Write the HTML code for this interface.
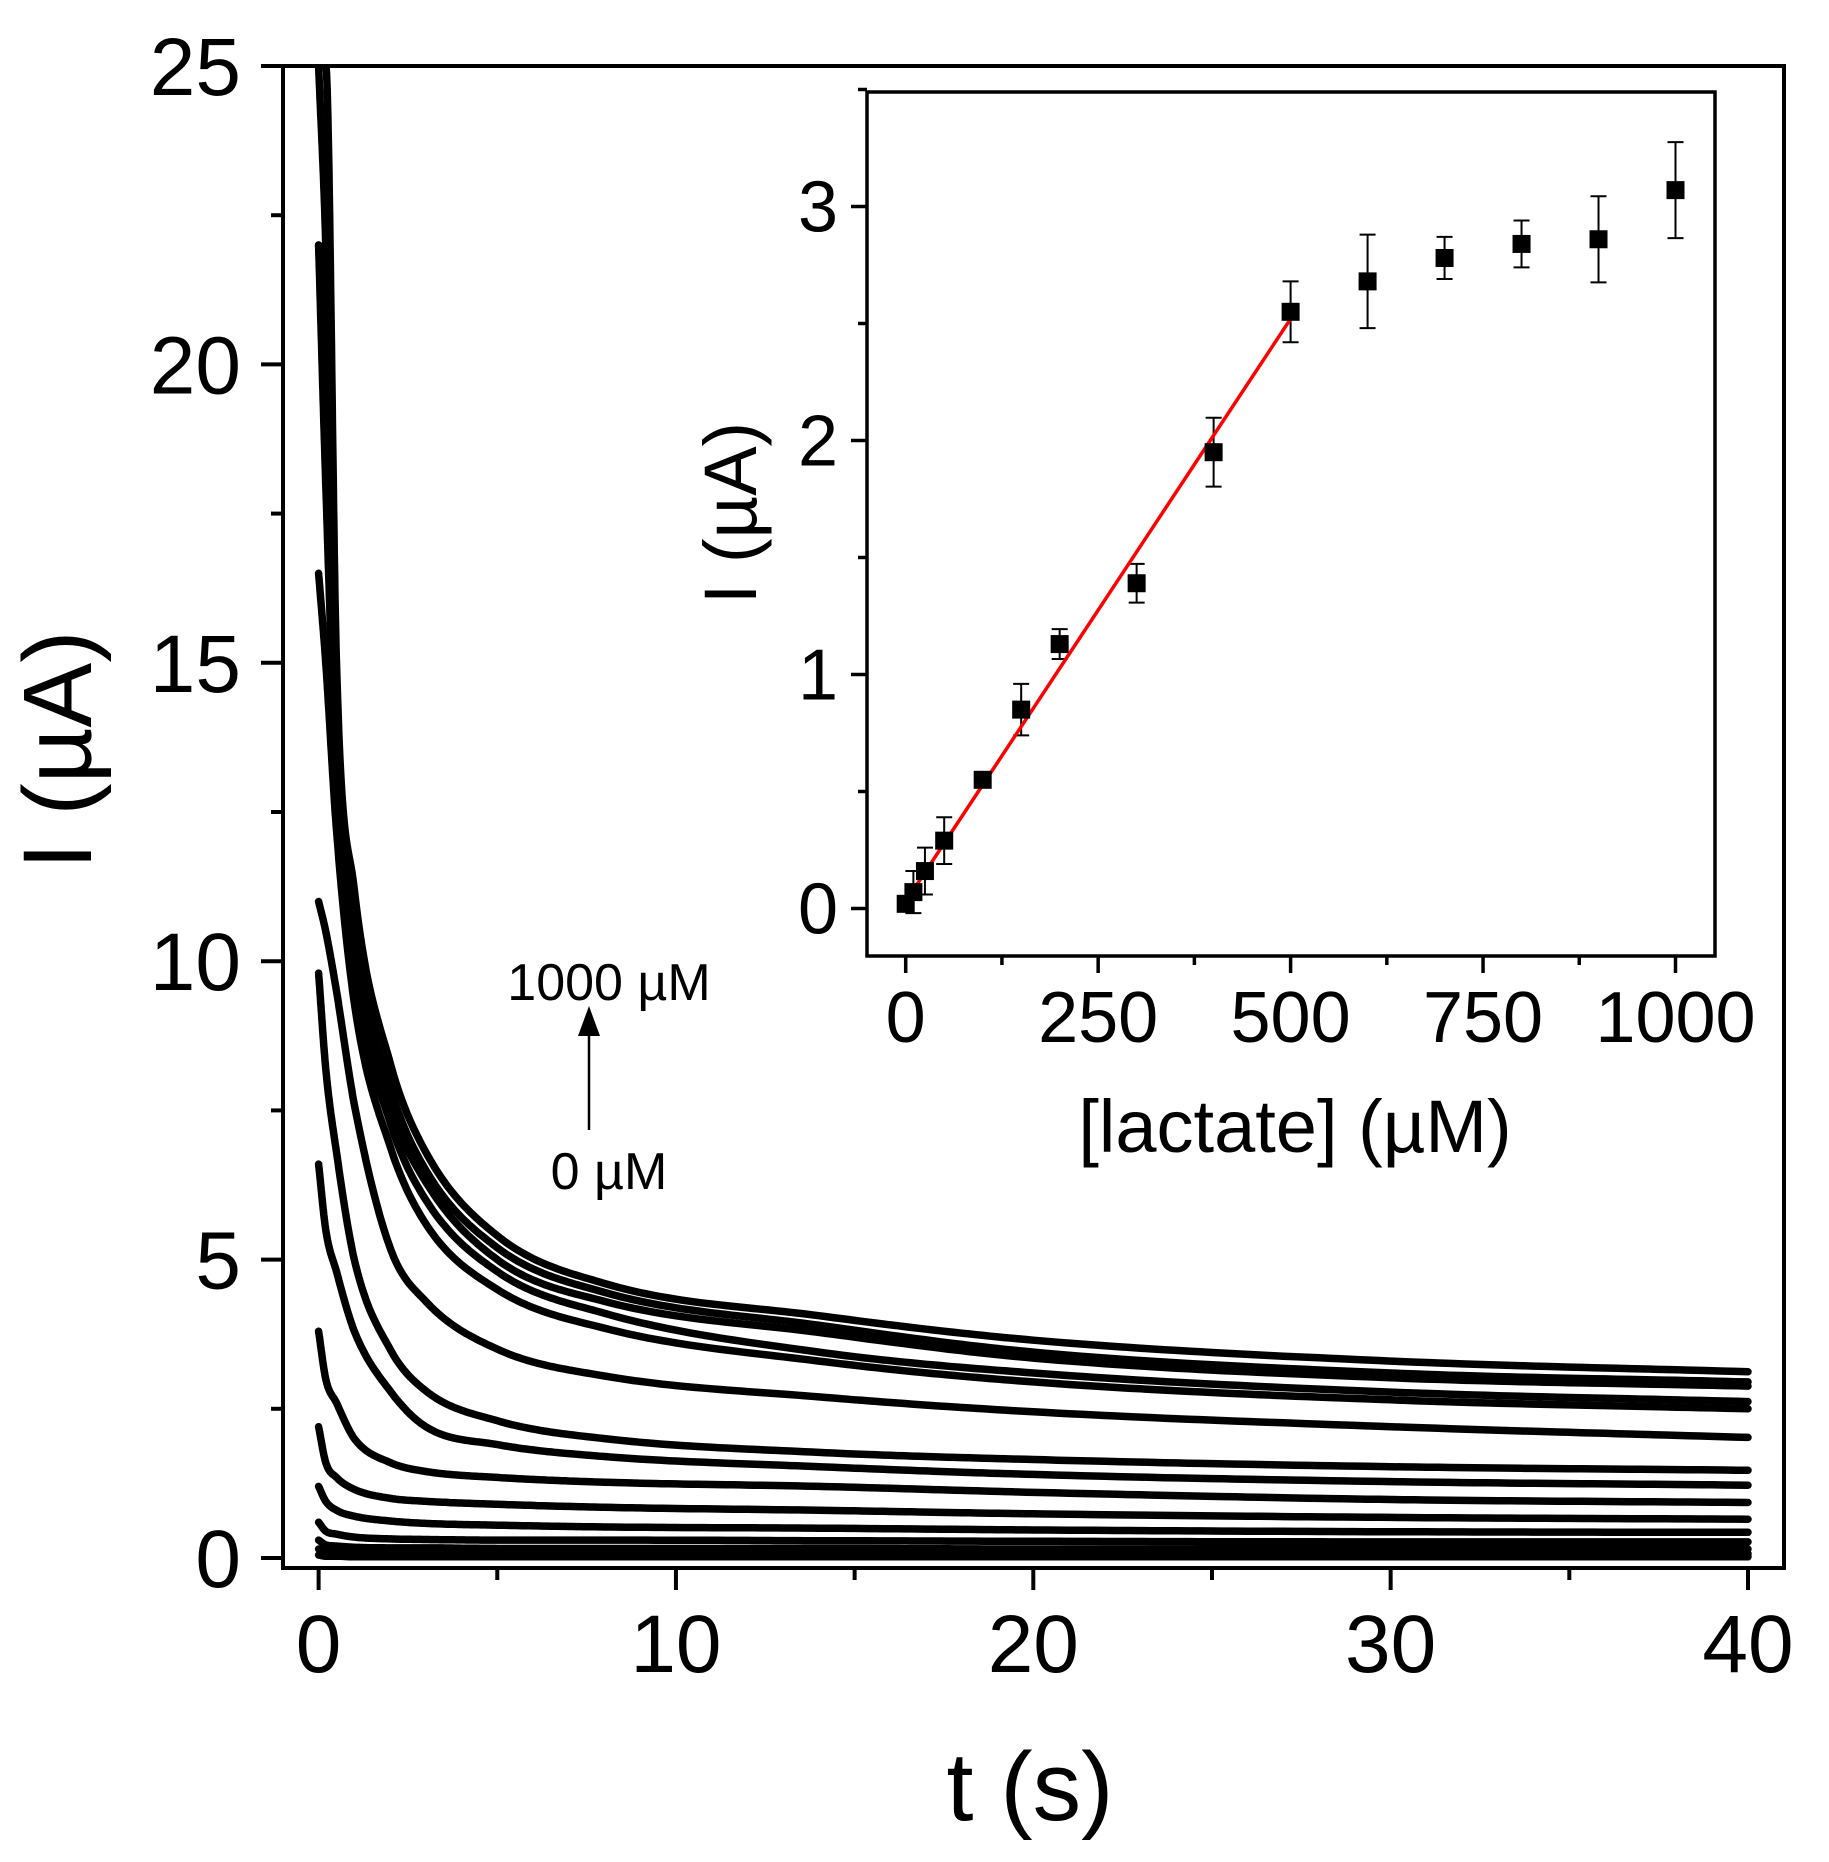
<!DOCTYPE html>
<html><head><meta charset="utf-8"><style>
html,body{margin:0;padding:0;background:#fff;}
svg{display:block;font-family:"Liberation Sans",Arial,sans-serif;}
</style></head><body>
<svg id="chart" width="1829" height="1862" viewBox="0 0 1829 1862" xmlns="http://www.w3.org/2000/svg">
<rect x="0" y="0" width="1829" height="1862" fill="#fff"/>
<g id="main"></g>
<g id="inset"></g>
<g>
<text x="609" y="1000" font-size="52" text-anchor="middle">1000 µM</text>
<line x1="589" y1="1130" x2="589" y2="1032" stroke="#000" stroke-width="2.5"/>
<polygon points="578,1036 600,1036 589,1006" fill="#000"/>
<text x="609" y="1189" font-size="52" text-anchor="middle">0 µM</text>
</g>
</svg>
<script>
// ---------- main plot data ----------
const timeSamples = [0, 0.2, 0.5, 1, 2, 3, 5, 8, 14, 20, 30, 40];
const curve1000 = [25, 25, 15, 11.2, 8.3, 6.8, 5.4, 4.6, 4.06, 3.65, 3.3, 3.12];
const curve900 = [25, 22, 14, 10.6, 7.9, 6.5, 5.2, 4.45, 3.9, 3.45, 3.1, 2.95];
const curve800 = [22, 20, 13.5, 10.2, 7.6, 6.3, 5.0, 4.3, 3.78, 3.35, 3.02, 2.88];
const curve700 = [22, 18, 13, 9.8, 7.3, 6.0, 4.8, 4.1, 3.45, 3.1, 2.78, 2.62];
const curve600 = [16.5, 15, 12.2, 9.3, 6.9, 5.6, 4.5, 3.85, 3.3, 2.95, 2.65, 2.5];
const curve500 = [11, 10.5, 9.5, 7.6, 5.2, 4.3, 3.5, 3.05, 2.7, 2.45, 2.2, 2.02];
const curve400 = [9.8, 8.2, 6.8, 5.0, 3.5, 2.8, 2.3, 2.0, 1.77, 1.65, 1.53, 1.47];
const curve300 = [6.6, 5.5, 4.8, 3.8, 2.8, 2.2, 1.9, 1.7, 1.53, 1.4, 1.28, 1.22];
const curve200 = [3.8, 3.0, 2.6, 2.0, 1.6, 1.45, 1.35, 1.27, 1.2, 1.1, 0.98, 0.93];
const curve150 = [2.2, 1.6, 1.35, 1.15, 1.0, 0.95, 0.9, 0.85, 0.8, 0.74, 0.68, 0.65];
const curve100 = [1.2, 0.95, 0.8, 0.7, 0.62, 0.58, 0.55, 0.52, 0.5, 0.47, 0.44, 0.43];
const curve50 = [0.6, 0.45, 0.4, 0.35, 0.32, 0.31, 0.3, 0.3, 0.29, 0.28, 0.27, 0.27];
const curve25 = [0.3, 0.22, 0.2, 0.18, 0.17, 0.17, 0.16, 0.16, 0.16, 0.15, 0.15, 0.15];
const curve10 = [0.15, 0.1, 0.09, 0.08, 0.08, 0.08, 0.07, 0.07, 0.07, 0.07, 0.07, 0.07];
const curve0 = [0.05, 0.03, 0.03, 0.02, 0.02, 0.02, 0.02, 0.02, 0.02, 0.02, 0.02, 0.02];
const mainXTicks = [0, 10, 20, 30, 40];
const mainYTicks = [0, 5, 10, 15, 20, 25];

// ---------- inset data ----------
const lactateConc = [0, 10, 25, 50, 100, 150, 200, 300, 400, 500, 600, 700, 800, 900, 1000];
const insetCurrent = [0.02, 0.07, 0.16, 0.29, 0.55, 0.85, 1.13, 1.39, 1.95, 2.55, 2.68, 2.78, 2.84, 2.86, 3.07];
const insetError = [0.03, 0.09, 0.10, 0.10, 0.03, 0.11, 0.064, 0.083, 0.147, 0.13, 0.20, 0.09, 0.10, 0.184, 0.205];
const fitConc = [0, 500];
const fitCurrent = [0.03, 2.52];
const insetXTicks = [0, 250, 500, 750, 1000];
const insetYTicks = [0, 1, 2, 3];

const NS = 'http://www.w3.org/2000/svg';
function mk(parent, tag, attrs) {
  const el = document.createElementNS(NS, tag);
  for (const k in attrs) el.setAttribute(k, attrs[k]);
  parent.appendChild(el);
  return el;
}

const mx = v => 318.6 + v * (1748 - 318.6) / 40;
const my = v => 1558 - v * (1558 - 66) / 25;
const main = document.getElementById('main');
const clip = mk(main, 'clipPath', {id: 'mainclip'});
mk(clip, 'rect', {x: 283, y: 66, width: 1501, height: 1502});

const curves = [curve1000, curve900, curve800, curve700, curve600, curve500, curve400, curve300, curve200, curve150, curve100, curve50, curve25, curve10, curve0];
const curveNames = ['1000', '900', '800', '700', '600', '500', '400', '300', '200', '150', '100', '50', '25', '10', '0'];

function monotonePath(xs, ys) {
  const n = xs.length, d = [], m = new Array(n);
  for (let i = 0; i < n - 1; i++) d.push((ys[i + 1] - ys[i]) / (xs[i + 1] - xs[i]));
  m[0] = d[0]; m[n - 1] = d[n - 2];
  for (let i = 1; i < n - 1; i++) m[i] = (d[i - 1] * d[i] <= 0) ? 0 : (d[i - 1] + d[i]) / 2;
  for (let i = 0; i < n - 1; i++) {
    if (d[i] === 0) { m[i] = 0; m[i + 1] = 0; continue; }
    const a = m[i] / d[i], b = m[i + 1] / d[i], s = a * a + b * b;
    if (s > 9) { const t = 3 / Math.sqrt(s); m[i] = t * a * d[i]; m[i + 1] = t * b * d[i]; }
  }
  let out = 'M' + mx(xs[0]).toFixed(1) + ',' + my(ys[0]).toFixed(1);
  for (let i = 0; i < n - 1; i++) {
    const h = xs[i + 1] - xs[i], steps = 30;
    for (let k = 1; k <= steps; k++) {
      const t = k / steps, t2 = t * t, t3 = t2 * t;
      const v = (2 * t3 - 3 * t2 + 1) * ys[i] + (t3 - 2 * t2 + t) * h * m[i] + (-2 * t3 + 3 * t2) * ys[i + 1] + (t3 - t2) * h * m[i + 1];
      out += ' L' + mx(xs[i] + t * h).toFixed(1) + ',' + my(v).toFixed(1);
    }
  }
  return out;
}
const cg = mk(main, 'g', {'clip-path': 'url(#mainclip)'});
curves.forEach((c, idx) => {
  const p = mk(cg, 'path', {d: monotonePath(timeSamples, c), fill: 'none', stroke: '#000', 'stroke-width': 7.5, 'stroke-linecap': 'round', 'stroke-linejoin': 'round'});
  
  
});
const mf = mk(main, 'rect', {x: 283, y: 66, width: 1501, height: 1502, fill: 'none', stroke: '#000', 'stroke-width': 4});


for (let v = 0; v <= 40; v += 5) {
  const major = v % 10 === 0;
  const t = mk(main, 'line', {x1: mx(v), x2: mx(v), y1: 1568, y2: 1568 + (major ? 22 : 12), stroke: '#000', 'stroke-width': 4});
  
  
}
mainXTicks.forEach(v => {
  const t = mk(main, 'text', {x: mx(v), y: 1672, 'font-size': 82, 'text-anchor': 'middle'});
  t.textContent = String(v);
  
  
});
for (let v = 0; v <= 25; v += 2.5) {
  const major = v % 5 === 0;
  const t = mk(main, 'line', {x1: 283, x2: 283 - (major ? 22 : 12), y1: my(v), y2: my(v), stroke: '#000', 'stroke-width': 4});
  
  
}
mainYTicks.forEach(v => {
  const t = mk(main, 'text', {x: 241, y: my(v) + 29, 'font-size': 82, 'text-anchor': 'end'});
  t.textContent = String(v);
  
  
});
const xt = mk(main, 'text', {x: 1030, y: 1820, 'font-size': 97, 'text-anchor': 'middle'});
xt.textContent = 't (s)';


const yt = mk(main, 'text', {x: 0, y: 0, 'font-size': 97, 'text-anchor': 'middle', transform: 'translate(91,750) rotate(-90)'});
yt.textContent = 'I (µA)';



// inset
const ix = v => 905.7 + v * (1675.5 - 905.7) / 1000;
const iy = v => 908.5 - v * 234;
const inset = document.getElementById('inset');
const bg = mk(inset, 'rect', {x: 867, y: 92, width: 848, height: 864, fill: '#fff', stroke: '#000', 'stroke-width': 3.5});


for (let v = 0; v <= 1000; v += 125) {
  const major = v % 250 === 0;
  const t = mk(inset, 'line', {x1: ix(v), x2: ix(v), y1: 956, y2: 956 + (major ? 17 : 9), stroke: '#000', 'stroke-width': 3.5});
  
  
}
insetXTicks.forEach(v => {
  const t = mk(inset, 'text', {x: ix(v), y: 1042, 'font-size': 72, 'text-anchor': 'middle'});
  t.textContent = String(v);
  
  
});
for (let v = 0; v <= 3.5; v += 0.5) {
  const major = Math.abs(v - Math.round(v)) < 1e-9;
  const t = mk(inset, 'line', {x1: 867, x2: 867 - (major ? 16 : 9), y1: iy(v), y2: iy(v), stroke: '#000', 'stroke-width': 3.5});
  
  
}
insetYTicks.forEach(v => {
  const t = mk(inset, 'text', {x: 838, y: iy(v) + 25, 'font-size': 72, 'text-anchor': 'end'});
  t.textContent = String(v);
  
  
});
const ixt = mk(inset, 'text', {x: 1295, y: 1152, 'font-size': 74, 'text-anchor': 'middle'});
ixt.textContent = '[lactate] (µM)';


const iyt = mk(inset, 'text', {x: 0, y: 0, 'font-size': 74, 'text-anchor': 'middle', transform: 'translate(756,513) rotate(-90)'});
iyt.textContent = 'I (µA)';


lactateConc.forEach((c, i) => {
  const x = ix(c), y1 = iy(insetCurrent[i] + insetError[i]), y2 = iy(insetCurrent[i] - insetError[i]);
  const eb = mk(inset, 'path', {d: `M${x},${y1}V${y2}M${x - 8},${y1}H${x + 8}M${x - 8},${y2}H${x + 8}`, stroke: '#000', 'stroke-width': 2, fill: 'none'});
  
  
});
const fit = mk(inset, 'line', {x1: ix(fitConc[0]), y1: iy(fitCurrent[0]), x2: ix(fitConc[1]), y2: iy(fitCurrent[1]), stroke: '#ff0000', 'stroke-width': 3.5});


lactateConc.forEach((c, i) => {
  const m = mk(inset, 'rect', {x: ix(c) - 9, y: iy(insetCurrent[i]) - 9, width: 18, height: 18, fill: '#000'});
  
  
});
</script>
</body></html>
